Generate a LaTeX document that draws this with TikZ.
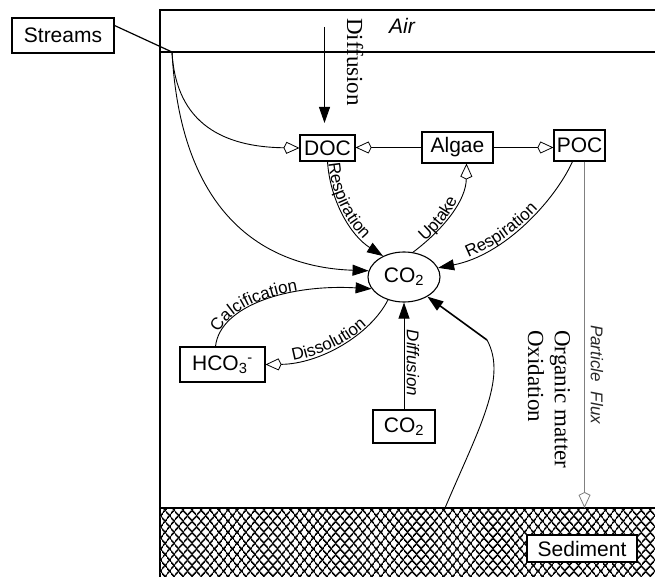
\documentclass[tikz,border=0pt]{standalone}
\usepackage{fontspec}
\setmainfont{Liberation Serif}
\setsansfont{Liberation Sans}
\usetikzlibrary{arrows.meta,shapes.geometric,patterns.meta,decorations.text}
\newcommand\boxf{\sffamily\fontsize{21}{24}\selectfont}
\newcommand\lblf{\sffamily\fontsize{17}{17}\selectfont}
\newcommand\itlf{\sffamily\itshape\fontsize{17}{17}\selectfont}
\newcommand\serf{\rmfamily\fontsize{23}{26}\selectfont}
\begin{document}
\begin{tikzpicture}[x=1pt,y=-1pt,
  box/.style={draw,line width=1.1pt,inner sep=0pt,font=\boxf},
  conn/.style={line width=0.9pt},
  solidhead/.style={-{Triangle[length=16pt,width=11pt]}},
  openhead/.style={-{Kite[open,length=16pt,width=12pt,inset=3pt,fill=white,line width=0.8pt]}},
  rottext/.style={rotate=-90,anchor=west,inner sep=0pt},
]
\useasboundingbox (0,0) rectangle (655,577);

% frame
\draw[line width=1.3pt] (655,10) -- (160,10) -- (160,577);
\draw[line width=1.3pt] (160,52) -- (655,52);

% sediment hatch
\fill[pattern={Lines[angle=51,distance=6.4pt,line width=1.6pt]}] (160,508) rectangle (655,577);
\fill[pattern={Lines[angle=-51,distance=6.4pt,line width=1.6pt]}] (160,508) rectangle (655,577);
\draw[line width=1.2pt] (160,508) -- (655,508);

% nodes
\node[box,minimum width=102pt,minimum height=35pt] (st) at (63,35.5) {Streams};
\node[box,minimum width=55pt,minimum height=26pt] (doc) at (327.5,148) {DOC};
\node[box,minimum width=71pt,minimum height=31pt] (alg) at (457.5,147.5) {Algae};
\node[box,minimum width=51pt,minimum height=31pt] (poc) at (579.5,145.5) {POC};
\node[box,minimum width=85pt,minimum height=35pt] (hco) at (222.5,364.5) {HCO\textsubscript{3}\textsuperscript{-}};
\node[box,minimum width=62pt,minimum height=33pt] (cob) at (404,426.5) {CO\textsubscript{2}};
\node[draw,ellipse,line width=1.1pt,minimum width=72pt,minimum height=50pt,inner sep=0pt,font=\boxf] (coe) at (404,277) {CO\textsubscript{2}};
\node[box,fill=white,minimum width=110pt,minimum height=27pt] (sed) at (582,548.5) {Sediment};

% texts
\node[font=\sffamily\itshape\fontsize{21}{24}\selectfont] (air) at (402,26) {Air};
\node[font=\serf,rottext] (difa) at (355,18) {Diffusion};
\node[font=\serf,rottext] (om1) at (560,330) {Organic matter};
\node[font=\serf,rottext] (om2) at (536,330) {Oxidation};
\node[font=\itlf,rottext,text=black!85] (pfl) at (597,325) {Particle\hspace{10pt}Flux};
\node[font=\itlf,rotate=-90] (difb) at (413,363) {Diffusion};

% air diffusion
\coordinate (dtop) at (324.5,27);
\coordinate (dend) at (324.5,123);
\draw[conn,solidhead] (dtop) -- (dend);

% streams
\coordinate (J) at (172,52);
\draw[line width=1.2pt] ([yshift=10pt]st.east) -- (J);
\draw[conn,openhead] (J) .. controls (176,125) and (225,147) .. (doc.west);
\draw[conn,solidhead] (J) .. controls (182,235) and (285,268) .. (coe.170);

% algae
\draw[conn,openhead] (alg.west) -- (alg.west -| doc.east);
\draw[conn,openhead] (alg.east) -- (alg.east -| poc.west);

% DOC respiration
\draw[conn,solidhead] (doc.south) .. controls (330,200) and (350,235) .. (coe.135);
\path[decorate,decoration={text along path,text={|\lblf|Respiration},text align={left indent=2pt},raise=1pt}]
  (doc.south) .. controls (330,200) and (350,235) .. (coe.135);

% uptake
\draw[conn,openhead] (coe.70) .. controls (445,228) and (466,200) .. ([xshift=9pt]alg.south);
\path[decorate,decoration={text along path,text={|\lblf|Uptake},text align={left indent=16pt},raise=1pt}]
  (coe.70) .. controls (445,228) and (466,200) .. ([xshift=9pt]alg.south);

% POC respiration
\draw[conn,solidhead] ([xshift=-7pt]poc.south) .. controls (555,200) and (505,255) .. (coe.15);
\path[decorate,decoration={text along path,text={|\lblf|Respiration},text align={left indent=32pt},raise=1pt}]
  (coe.15) .. controls (505,255) and (555,200) .. ([xshift=-7pt]poc.south);

% calcification
\draw[conn,solidhead] ([xshift=-7pt]hco.north) .. controls (220,305) and (290,284) .. (coe.200);
\path[decorate,decoration={text along path,text={|\lblf|Calcification},text align={left indent=14pt},raise=1pt}]
  ([xshift=-7pt]hco.north) .. controls (220,305) and (290,284) .. (coe.200);

% dissolution
\draw[conn,openhead] (coe.235) .. controls (370,335) and (320,364) .. (hco.east);
\path[decorate,decoration={text along path,text={|\lblf|Dissolution},text align={left indent=28pt},raise=1pt}]
  (hco.east) .. controls (320,364) and (370,335) .. (coe.235);

% CO2 diffusion from below
\draw[conn,solidhead] (cob.north) -- (coe.south);

% organic matter oxidation from sediment
\coordinate (s0) at (445,508);
\coordinate (m) at (487,340);
\draw[conn] (s0) .. controls (478,430) and (508,378) .. (m);
\draw[line width=1.6pt,solidhead] (m) -- (coe.320);

% particle flux
\coordinate (pf) at (584.5,508);
\draw[line width=1.4pt,gray,-{Kite[open,length=16pt,width=12pt,inset=3pt,fill=white,line width=0.8pt]}] ([xshift=5pt]poc.south) -- (pf);
\end{tikzpicture}
\end{document}
